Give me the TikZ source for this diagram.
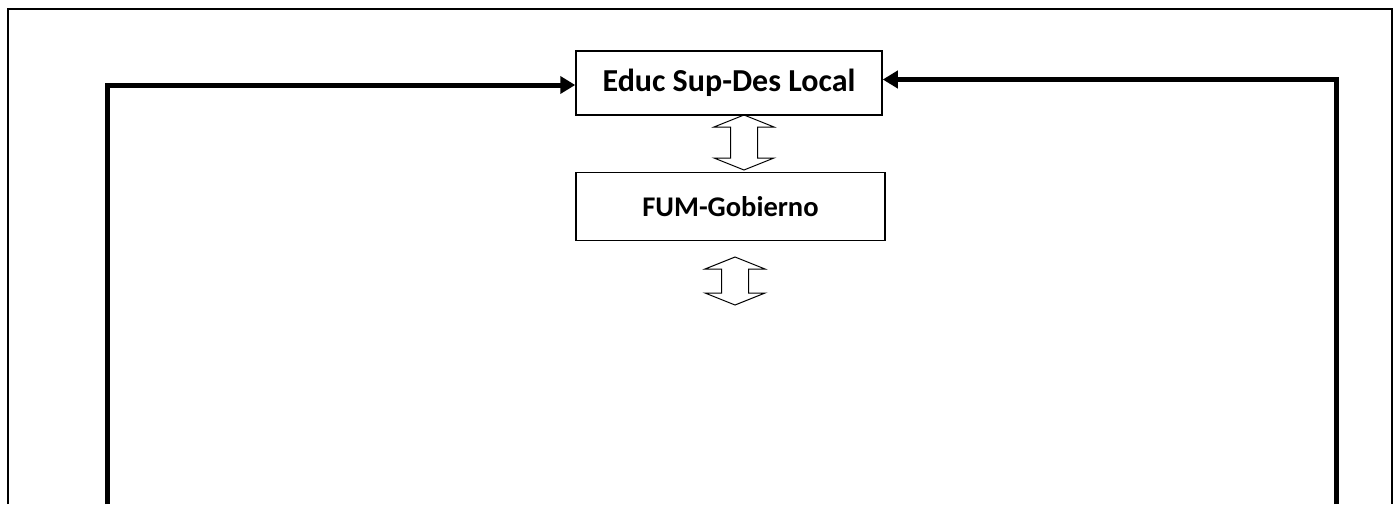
\documentclass[tikz,border=0pt]{standalone}
\usepackage{fontspec}
\setmainfont{Carlito}
\usetikzlibrary{positioning,arrows.meta}

\tikzset{
  block/.style={draw, line width=1.5pt, minimum width=306pt, minimum height=64pt,
    inner sep=0pt, font=\bfseries\fontsize{32}{34}\selectfont},
  link/.style={line width=5pt, -{Triangle[length=15pt,width=17pt]}},
  pics/updown/.style={code={
    \draw[line width=1pt] (0,{-#1/2}) -- (30,{-#1/2+12}) -- (13.5,{-#1/2+12})
      -- (13.5,{#1/2-12}) -- (30,{#1/2-12}) -- (0,{#1/2}) -- (-30,{#1/2-12})
      -- (-13.5,{#1/2-12}) -- (-13.5,{-#1/2+12}) -- (-30,{-#1/2+12}) -- cycle;
  }}
}

\begin{document}
\begin{tikzpicture}[x=1pt,y=-1pt]
        \useasboundingbox (0,0) rectangle (1396,504);
        % frame
        \draw[line width=1.5pt] (8,504) -- (8,9) -- (1392,9) -- (1392,504);

        \node[block] (edu) at (729,83) {Educ Sup-Des Local};
        \node[block, minimum width=309pt, minimum height=68pt, below=56pt of edu, xshift=1.5pt,
          font=\bfseries\fontsize{28.5}{30}\selectfont] (fum) {FUM-Gobierno};

        \pic at (744,142.5) {updown=55};
        \pic at (735,281) {updown=48};

        \coordinate (lfoot) at (107.5,504);
        \coordinate (rfoot) at (1336.5,504);
        \draw[link] (lfoot) |- ([yshift=-2pt]edu.west);
        \draw[link] (rfoot) |- ([yshift=3.5pt]edu.east);
\end{tikzpicture}
\end{document}
